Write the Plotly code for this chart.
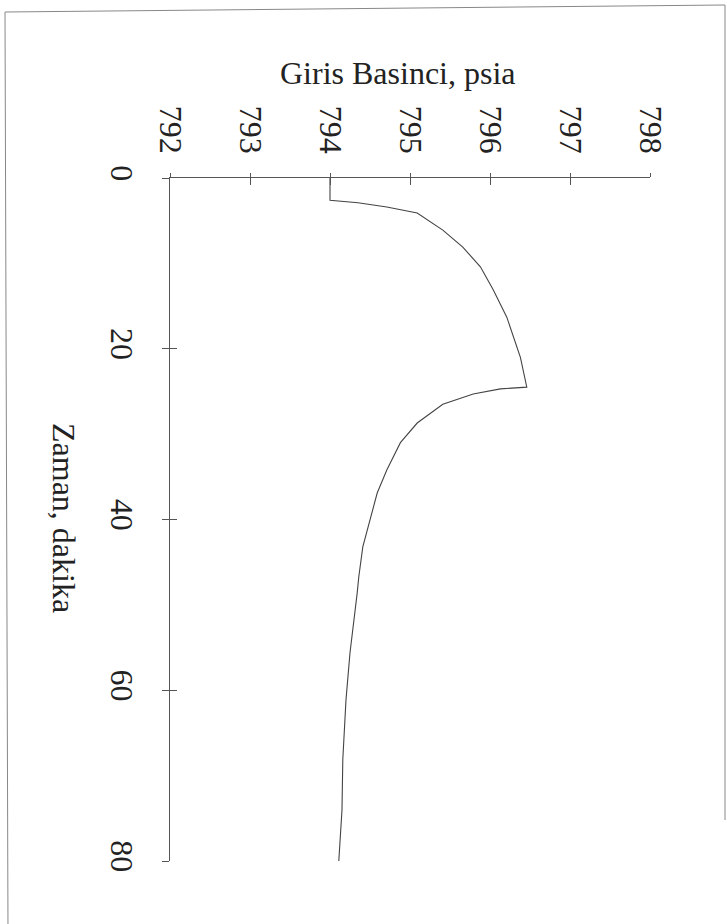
import plotly.graph_objects as go

# Inlet pressure response over time (time runs down the page, pressure across)
time_min = [0, 2.6, 2.9, 3.4, 4.1, 6.1, 8.1, 10.4, 13.1, 16.3, 21.0, 24.5,
            24.7, 25.3, 26.5, 28.7, 31.0, 34.2, 36.9, 40.0, 43.2, 46.7,
            48.6, 55.6, 61.1, 68.1, 74.0, 80.0]
pressure_psia = [794.0, 794.0, 794.35, 794.71, 795.09, 795.41, 795.66, 795.88,
                 796.04, 796.21, 796.38, 796.46, 796.13, 795.79, 795.41,
                 795.09, 794.88, 794.71, 794.59, 794.50, 794.41, 794.36,
                 794.34, 794.25, 794.20, 794.16, 794.15, 794.11]

pressure_ticks = [792, 793, 794, 795, 796, 797, 798]
time_ticks = [0, 20, 40, 60, 80]

pressure_title = "Giris Basinci, psia"
time_title = "Zaman, dakika"

W, H = 727, 924
L, R, T, B = 170, 650, 178, 861
FONT = "'Times New Roman', 'Liberation Serif', serif"
INK = "#222222"
AXIS = "#555555"


def px_to_paper(px, py):
    return (px - L) / (R - L), (B - py) / (B - T)


fig = go.Figure()
fig.add_trace(go.Scatter(
    x=pressure_psia, y=time_min, mode="lines",
    line=dict(color="#444444", width=1.1), showlegend=False,
    hoverinfo="skip",
))
# empty trace so the overlay axes (inner half of the crossing ticks) are drawn
fig.add_trace(go.Scatter(x=[None], y=[None], xaxis="x2", yaxis="y2",
                         showlegend=False, hoverinfo="skip"))

common = dict(showgrid=False, zeroline=False, tickfont=dict(family=FONT, size=32, color=INK))

fig.update_layout(
    width=W, height=H,
    margin=dict(l=L, r=W - R, t=T, b=H - B),
    paper_bgcolor="white", plot_bgcolor="white",
    font=dict(family=FONT),
    xaxis=dict(range=[792, 798], side="top", tickvals=pressure_ticks,
               tickangle=90, showline=True, linecolor=AXIS, linewidth=1,
               ticks="outside", ticklen=4, tickcolor=AXIS,
               ticklabelstandoff=8, **common),
    yaxis=dict(range=[80, 0], tickvals=time_ticks, tickangle=90,
               showline=True, linecolor=AXIS, linewidth=1,
               ticks="outside", ticklen=7, tickcolor=AXIS,
               ticklabelstandoff=13, **common),
    xaxis2=dict(range=[792, 798], overlaying="x", side="top",
                tickvals=pressure_ticks, showticklabels=False,
                ticks="inside", ticklen=7, tickcolor=AXIS,
                showline=False, showgrid=False, zeroline=False),
    yaxis2=dict(range=[80, 0], overlaying="y", side="left",
                tickvals=time_ticks, showticklabels=False,
                ticks="inside", ticklen=7, tickcolor=AXIS,
                showline=False, showgrid=False, zeroline=False),
)

# axis titles
tx, ty = px_to_paper(398, 73)
fig.add_annotation(text=pressure_title, x=tx, y=ty, xref="paper", yref="paper",
                   xanchor="center", yanchor="middle", showarrow=False,
                   font=dict(family=FONT, size=32, color=INK))
tx, ty = px_to_paper(64, 518)
fig.add_annotation(text=time_title, x=tx, y=ty, xref="paper", yref="paper",
                   xanchor="center", yanchor="middle", showarrow=False,
                   textangle=90, font=dict(family=FONT, size=32, color=INK))

# thin page frame
frame = [((5, 12), (725, 5)), ((5, 12), (8, 930)), ((725, 5), (725, 820))]
for (x0, y0), (x1, y1) in frame:
    a0, b0 = px_to_paper(x0, y0)
    a1, b1 = px_to_paper(x1, y1)
    fig.add_shape(type="line", xref="paper", yref="paper",
                  x0=a0, y0=b0, x1=a1, y1=b1,
                  line=dict(color="#888888", width=1))

fig.write_html("out.html")
